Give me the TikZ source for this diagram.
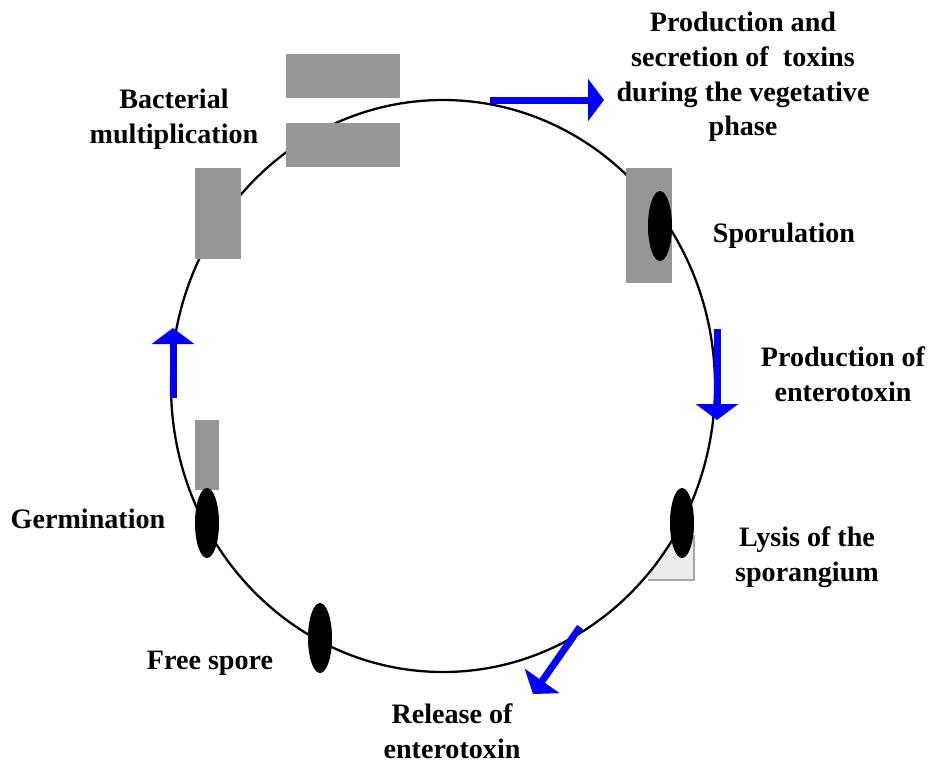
\documentclass[tikz,border=0pt]{standalone}
\usepackage{fontspec}
\setmainfont{Liberation Serif}
\usepackage{tikz}
\usetikzlibrary{arrows.meta, positioning, calc}
\definecolor{cellgray}{RGB}{150,150,150}

\begin{document}
\begin{tikzpicture}[x=0.02cm, y=-0.02cm,
		cellbox/.style={fill=cellgray, draw=none}, % vegetative cell
		spore/.style={fill=black}, % black spore
		phasearrow/.style={draw=blue, line width=0.14cm, -{Triangle[length=0.32cm, width=0.84cm]}}, % blue arrows
		label/.style={font=\fontsize{16}{19.7}\selectfont\bfseries, align=center, inner sep=0pt}
		]
		\useasboundingbox (0,0) rectangle (931,762);
		% lysis of the sporangium (remains)
		\begin{scope}
			\clip (648,530) rectangle (694,580);
			\fill[gray!15] (648,530) rectangle (694,580);
			\fill[white] (443,386) ellipse [x radius=272, y radius=286];
		\end{scope}
		\draw[gray!70, line width=1pt] (694,535) -- (694,580) -- (648,580);
		% the cycle
		\draw[line width=1.3pt] (443,386) ellipse [x radius=272, y radius=286];
		% cells
		\fill[cellbox] (286,54) rectangle (400,98) coordinate (cellA);
		\fill[cellbox] (286,123) rectangle (400,167) coordinate (cellB);
		\fill[cellbox] (195,168) rectangle (241,259) coordinate (cellC);
		\fill[cellbox] (626,168) rectangle (672,283) coordinate (cellD);
		\fill[cellbox] (195,420) rectangle (219,490) coordinate (cellE);
		% spores
		\fill[spore] (660,226) ellipse [x radius=12, y radius=35];
		\fill[spore] (682,523) ellipse [x radius=12, y radius=35];
		\fill[spore] (207,523) ellipse [x radius=12, y radius=35];
		\fill[spore] (320,638) ellipse [x radius=12, y radius=35];
		% arrow ends
		\coordinate (toxA) at (490,100);
		\coordinate (toxB) at (604,100);
		\coordinate (entA) at (717,329);
		\coordinate (entB) at (717,420);
		\coordinate (relA) at (580,627);
		\coordinate (relB) at (533,694);
		\coordinate (gerA) at (173,398);
		\coordinate (gerB) at (173,328);
		\draw[phasearrow] (toxA) -- (toxB);
		\draw[phasearrow] (entA) -- (entB);
		\draw[phasearrow] (relA) -- (relB);
		\draw[phasearrow] (gerA) -- (gerB);
		% labels
		\node[label] (toxins) at (743,77) {Production and\\secretion of \ toxins\\during the vegetative\\phase};
		\node[label] (multi) at (174,119) {Bacterial\\multiplication};
		\node[label] (sporul) at (784,236) {Sporulation};
		\node[label] (entero) at (843,374) {Production of\\enterotoxin};
		\node[label] (lysis) at (807,557) {Lysis of the\\sporangium};
		\node[label] (germ) at (88,519) {Germination};
		\node[label] (free) at (210,663) {Free spore};
		\node[label] (release) at (452,731) {Release of\\enterotoxin};
	\end{tikzpicture}
\end{document}
